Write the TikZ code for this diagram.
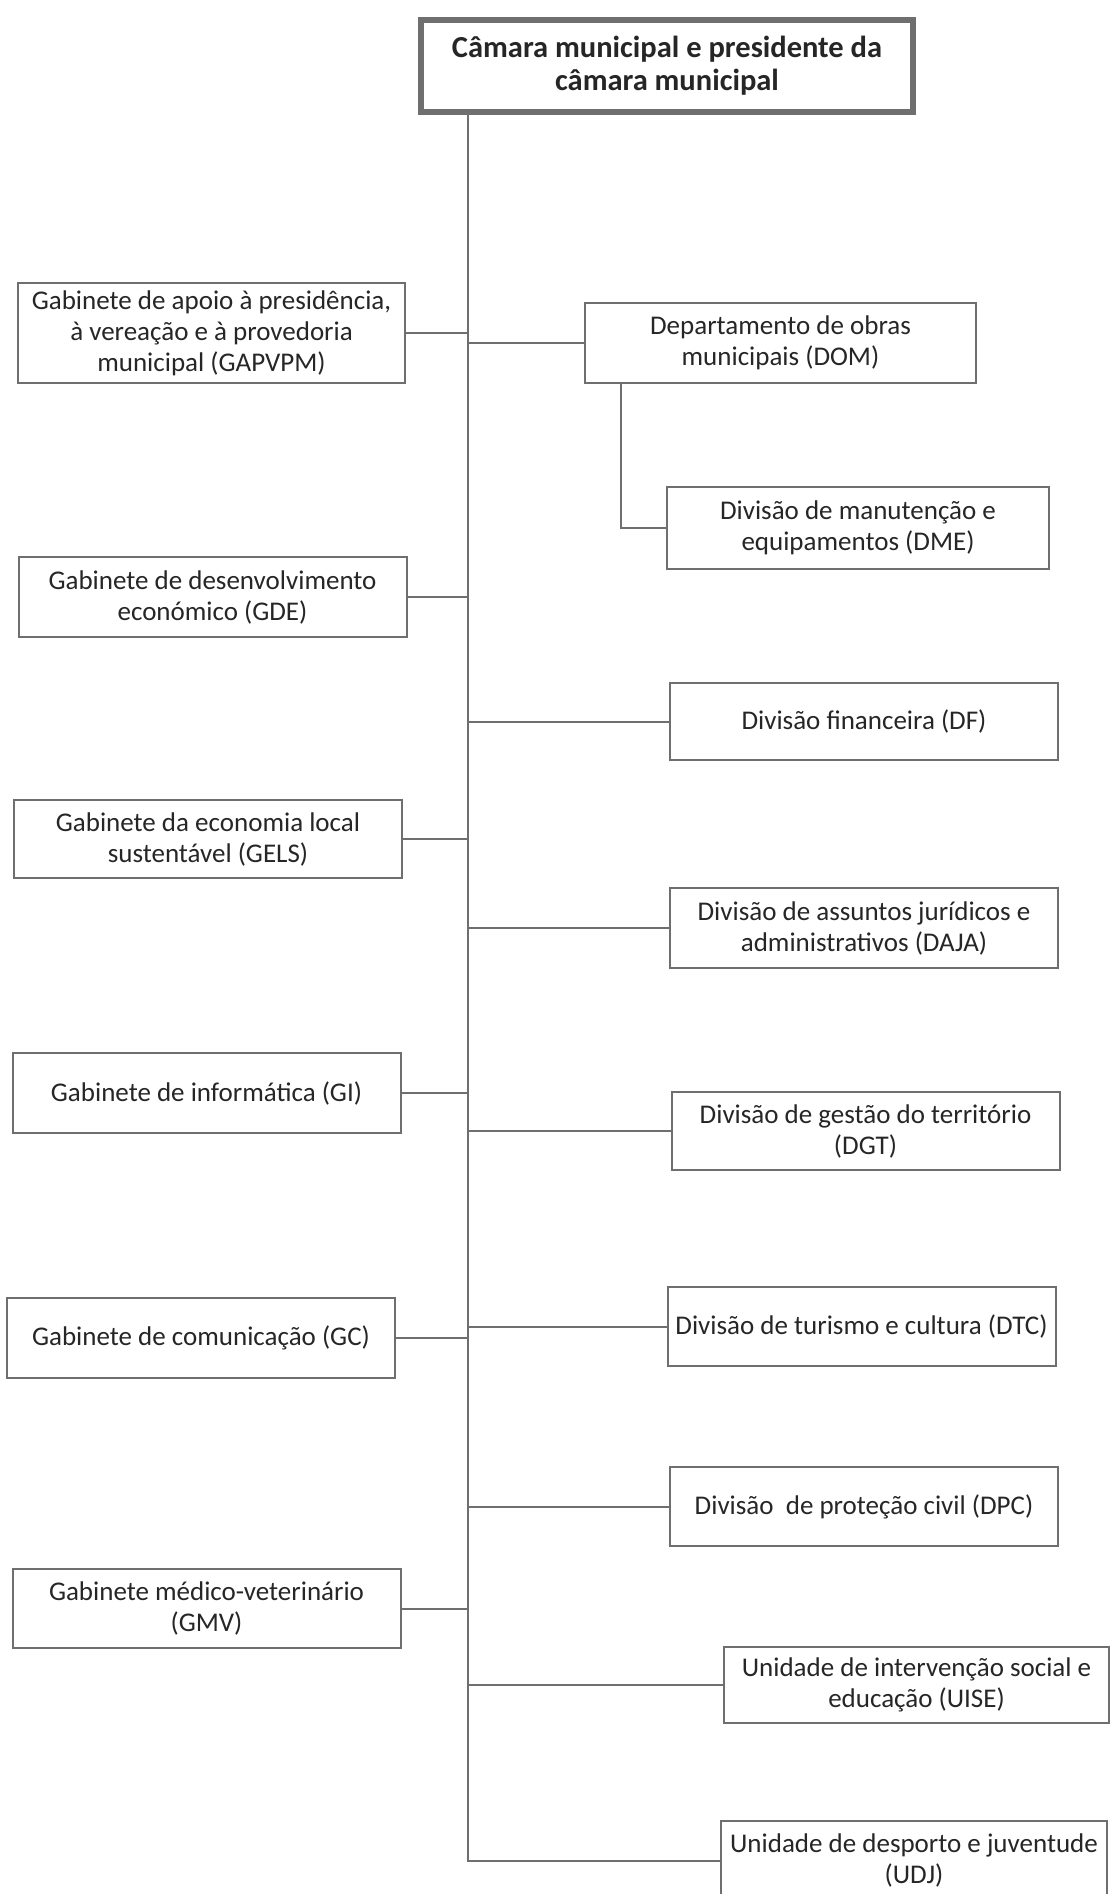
\documentclass[tikz,border=0pt]{standalone}
\usepackage{fontspec}
\setmainfont{Carlito}
\usepackage{tikz}
\usetikzlibrary{positioning}
\definecolor{linegray}{HTML}{6F6F6F}
\definecolor{textgray}{HTML}{262626}
\tikzset{
orgbox/.style={draw=linegray, line width=2pt, fill=white, text=textgray, align=center, inner sep=0pt,
  minimum width=388pt, minimum height=80pt, font=\fontsize{27}{31}\selectfont}, % sets the look of every unit box
headbox/.style={orgbox, line width=6pt, minimum width=492pt, minimum height=92pt,
  font=\fontsize{30.5}{33}\selectfont\bfseries}, % the box on top
link/.style={draw=linegray, line width=2pt}, % plain connectors, no arrow heads
}

\begin{document}
\begin{tikzpicture}[x=1pt,y=-1pt]
\useasboundingbox (0,0) rectangle (1111,1894);
\clip (0,0) rectangle (1111,1894);
\node[headbox] (head) at (667,66) {Câmara municipal e presidente da\\câmara municipal};

% left side
\node[orgbox, minimum width=387pt, minimum height=100pt] (gapvpm) at (211.5,333) {Gabinete de apoio à presidência,\\à vereação e à provedoria\\municipal (GAPVPM)};
\node[orgbox] (gde) at (212.5,597) {Gabinete de desenvolvimento\\económico (GDE)};
\node[orgbox, minimum height=78pt] (gels) at (208,839) {Gabinete da economia local\\sustentável (GELS)};
\node[orgbox] (gi) at (206.5,1093) {Gabinete de informática (GI)};
\node[orgbox] (gc) at (201,1338) {Gabinete de comunicação (GC)};
\node[orgbox, minimum height=79pt] (gmv) at (206.5,1608.5) {Gabinete médico-veterinário\\(GMV)};

% right side
\node[orgbox, minimum width=391pt] (dom) at (780.5,343) {Departamento de obras\\municipais (DOM)};
\node[orgbox, minimum width=382pt, minimum height=82pt] (dme) at (858,528) {Divisão de manutenção e\\equipamentos (DME)};
\node[orgbox, minimum height=77pt] (df) at (864,721.5) {Divisão financeira (DF)};
\node[orgbox] (daja) at (864,928) {Divisão de assuntos jurídicos e\\administrativos (DAJA)};
\node[orgbox, minimum height=78pt] (dgt) at (865.5,1131) {Divisão de gestão do território\\(DGT)};
\node[orgbox, minimum height=79pt] (dtc) at (861.5,1326.5) {Divisão de turismo e cultura (DTC)};
\node[orgbox, minimum height=79pt] (dpc) at (864,1506.5) {Divisão\ \ de proteção civil (DPC)};
\node[orgbox, minimum width=385pt, minimum height=76pt] (uise) at (916.5,1685) {Unidade de intervenção social e\\educação (UISE)};
\node[orgbox, minimum width=386pt, minimum height=79pt] (udj) at (914,1860.5) {Unidade de desporto e juventude\\(UDJ)};

% connectors
\path (head.south west) ++(50,0) coordinate (trunk);
\draw[link] (trunk) -- (trunk |- udj.west) -- (udj.west);
\foreach \n in {gapvpm,gde,gels,gi,gc,gmv}
  \draw[link] (\n.east) -- (trunk |- \n.east);
\foreach \n in {dom,df,daja,dgt,dtc,dpc,uise}
  \draw[link] (trunk |- \n.west) -- (\n.west);
\path (dom.south west) ++(37,0) coordinate (sub);
\draw[link] (sub) -- (sub |- dme.west) -- (dme.west);
\end{tikzpicture}
\end{document}
